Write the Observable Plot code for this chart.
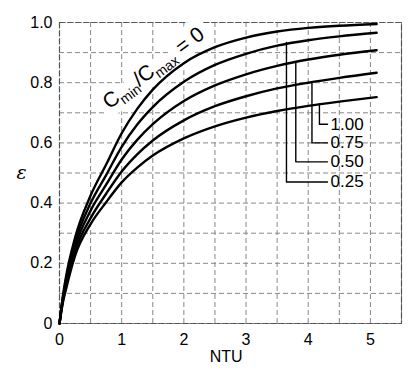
<!DOCTYPE html>
<html>
<head>
<meta charset="utf-8">
<script src="https://cdn.jsdelivr.net/npm/d3@7"></script>
<script src="https://cdn.jsdelivr.net/npm/@observablehq/plot@0.6"></script>
<style>
  html, body { margin: 0; padding: 0; background: #fff; }
  #chart { width: 420px; height: 381px; }
</style>
</head>
<body>
<div id="chart"></div>
<script>
// ---- data ----
const ntu   = [0, 0.05, 0.1, 0.25, 0.5, 0.75, 1, 1.25, 1.5, 2, 2.5, 3, 3.5, 4, 4.5, 5.1];
const eps0   = [0, 0.085, 0.15, 0.285, 0.425, 0.528, 0.632, 0.713, 0.777, 0.865, 0.918, 0.950, 0.970, 0.982, 0.989, 0.995];
const eps025 = [0, 0.080, 0.14, 0.270, 0.400, 0.493, 0.587, 0.661, 0.719, 0.803, 0.859, 0.896, 0.923, 0.941, 0.954, 0.966];
const eps050 = [0, 0.075, 0.13, 0.255, 0.375, 0.461, 0.545, 0.610, 0.662, 0.739, 0.791, 0.828, 0.856, 0.877, 0.893, 0.908];
const eps075 = [0, 0.070, 0.12, 0.240, 0.350, 0.431, 0.505, 0.562, 0.608, 0.675, 0.722, 0.755, 0.781, 0.800, 0.816, 0.833];
const eps100 = [0, 0.065, 0.11, 0.225, 0.330, 0.403, 0.469, 0.518, 0.558, 0.615, 0.655, 0.684, 0.706, 0.723, 0.737, 0.752];

const ratioLabels = ["0.25", "0.50", "0.75", "1.00"];
const leaderX     = [3.65, 3.80, 4.06, 4.18];
const leaderTop   = [0.934, 0.870, 0.800, 0.729];
const labelEps    = [0.470, 0.537, 0.600, 0.662];
const labelEndX   = 4.31;

const xTicks = [0, 1, 2, 3, 4, 5];
const xTickLabels = ["0", "1", "2", "3", "4", "5"];
const yTicks = [0, 0.2, 0.4, 0.6, 0.8, 1.0];
const yTickLabels = ["0", "0.2", "0.4", "0.6", "0.8", "1.0"];
const xGrid = [0, 0.5, 1, 1.5, 2, 2.5, 3, 3.5, 4, 4.5, 5, 5.5];
const yGrid = [0, 0.1, 0.2, 0.3, 0.4, 0.5, 0.6, 0.7, 0.8, 0.9, 1.0];

const titleX = [0.80];
const titleY = [0.71];
const titleText = "Cmin/Cmax = 0";

// ---- build tables ----
const seriesList = [["0", eps0], ["0.25", eps025], ["0.50", eps050], ["0.75", eps075], ["1.00", eps100]];
const curves = seriesList.flatMap(([cr, arr]) => ntu.map((n, i) => ({cr, n, e: arr[i]})));
const leaders = ratioLabels.flatMap((cr, i) => [
  {cr, n: leaderX[i], e: leaderTop[i]},
  {cr, n: leaderX[i], e: labelEps[i]},
  {cr, n: labelEndX, e: labelEps[i]}
]);
const labels = ratioLabels.map((cr, i) => ({cr, n: labelEndX, e: labelEps[i]}));
const titlePts = titleX.map((x, i) => ({n: x, e: titleY[i]}));

const titleOpts = {x: "n", y: "e", text: () => titleText, rotate: -37, textAnchor: "start", lineAnchor: "bottom", fontSize: 21};

const chart = Plot.plot({
  width: 420,
  height: 381,
  marginLeft: 59,
  marginRight: 19,
  marginTop: 22,
  marginBottom: 58,
  style: {fontFamily: "'Liberation Sans', Arial, sans-serif", fontSize: "16px", background: "white", color: "black"},
  x: {domain: [0, 5.5], ticks: xTicks, tickFormat: d => xTickLabels[xTicks.indexOf(d)], tickSize: 0, tickPadding: 10, label: null},
  y: {domain: [0, 1], ticks: yTicks, tickFormat: d => yTickLabels[yTicks.indexOf(d)], tickSize: 0, tickPadding: 7, label: null},
  marks: [
    Plot.ruleX(xGrid, {stroke: "#888", strokeWidth: 1, strokeDasharray: "5,3"}),
    Plot.ruleY(yGrid, {stroke: "#888", strokeWidth: 1, strokeDasharray: "5,3"}),
    Plot.frame({stroke: "#555", strokeWidth: 1.2, strokeDasharray: "6,2"}),
    // white halo clearing the grid behind the rotated label
    Plot.text(titlePts, {...titleOpts, fill: "white", stroke: "white", strokeWidth: 16, strokeLinejoin: "round"}),
    Plot.text(titlePts, {...titleOpts, fill: "black"}),
    Plot.line(curves, {x: "n", y: "e", z: "cr", stroke: "black", strokeWidth: 2.4, curve: "monotone-x"}),
    Plot.line(leaders, {x: "n", y: "e", z: "cr", stroke: "black", strokeWidth: 1.4}),
    Plot.text(labels, {x: "n", y: "e", text: "cr", textAnchor: "start", dx: 3, fontSize: 17, fill: "black"}),
    Plot.text(["NTU"], {frameAnchor: "bottom", x: [2.68], text: d => d, dy: 38, fontSize: 16, fill: "black"}),
    Plot.text(["ε"], {frameAnchor: "left", text: d => d, dx: -43, fontSize: 19, fill: "black", fontStyle: "italic", fontFamily: "'DejaVu Serif', serif"})
  ]
});

document.getElementById("chart").appendChild(chart);

// subscripts for the rotated ratio label (both halo and foreground)
chart.querySelectorAll("text").forEach(t => {
  if (t.textContent !== titleText) return;
  t.textContent = "";
  const sel = d3.select(t);
  sel.append("tspan").text("C");
  sel.append("tspan").attr("dy", 5).style("font-size", "14px").text("min");
  sel.append("tspan").attr("dy", -5).text("/C");
  sel.append("tspan").attr("dy", 5).style("font-size", "14px").text("max");
  sel.append("tspan").attr("dy", -5).text(" = 0");
});
</script>
</body>
</html>
